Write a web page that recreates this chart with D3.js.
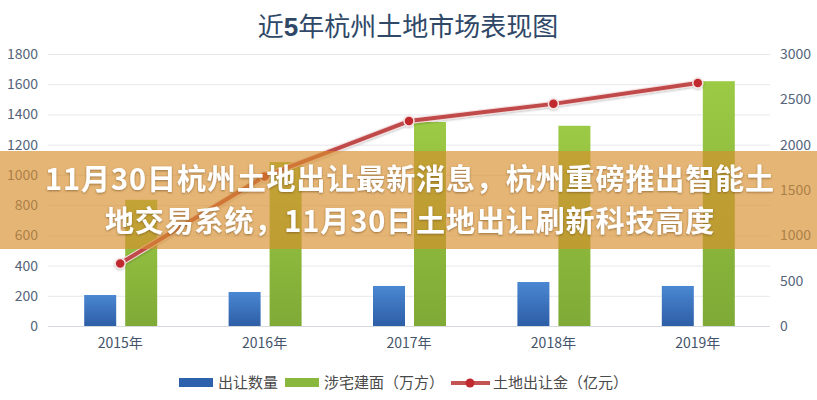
<!DOCTYPE html>
<html>
<head>
<meta charset="utf-8">
<script src="https://cdn.jsdelivr.net/npm/d3@7"></script>
<style>
  html, body { margin: 0; padding: 0; background: #fff; }
  svg { display: block; }
  .tick-label { font-family: "Liberation Sans Narrow", "Noto Sans CJK SC", sans-serif; }
</style>
</head>
<body>
<svg id="chart" width="817" height="400"></svg>
<script>
// 近5年杭州土地市场表现图 – bars + line, dual axis

const years = ["2015年", "2016年", "2017年", "2018年", "2019年"];
const landCount = [205, 225, 265, 291, 265];          // 出让数量 (left axis)
const residentialArea = [835, 1085, 1350, 1325, 1620]; // 涉宅建面（万方） (left axis)
const landRevenue = [690, 1650, 2260, 2450, 2680];     // 土地出让金（亿元） (right axis)

const leftTicks = [0, 200, 400, 600, 800, 1000, 1200, 1400, 1600, 1800];
const rightTicks = [0, 500, 1000, 1500, 2000, 2500, 3000];

const legendItems = ["出让数量", "涉宅建面（万方）", "土地出让金（亿元）"];
const chartTitle = "近5年杭州土地市场表现图";
const bannerLines = [
  "11月30日杭州土地出让最新消息，杭州重磅推出智能土",
  "地交易系统，11月30日土地出让刷新科技高度"
];

const svg = d3.select("#chart");
const plot = { left: 48, right: 770, top: 54, bottom: 326 };

// defs: gradients + shadow
const defs = svg.append("defs");
const blueGrad = defs.append("linearGradient").attr("id", "blueGrad")
  .attr("x1", 0).attr("y1", 0).attr("x2", 0).attr("y2", 1);
blueGrad.append("stop").attr("offset", "0%").attr("stop-color", "#4a87d2");
blueGrad.append("stop").attr("offset", "100%").attr("stop-color", "#2d5ea6");
const greenGrad = defs.append("linearGradient").attr("id", "greenGrad")
  .attr("x1", 0).attr("y1", 0).attr("x2", 0).attr("y2", 1);
greenGrad.append("stop").attr("offset", "0%").attr("stop-color", "#9cca45");
greenGrad.append("stop").attr("offset", "100%").attr("stop-color", "#7faa36");

const shadow = defs.append("filter").attr("id", "txtShadow")
  .attr("x", "-5%").attr("y", "-20%").attr("width", "110%").attr("height", "140%");
shadow.append("feDropShadow").attr("dx", 0).attr("dy", 1).attr("stdDeviation", 1.2)
  .attr("flood-color", "#6a4a20").attr("flood-opacity", 0.6);

const lineShadow = defs.append("filter").attr("id", "lineShadow")
  .attr("x", "-5%").attr("y", "-20%").attr("width", "110%").attr("height", "140%");
lineShadow.append("feDropShadow").attr("dx", 0).attr("dy", 1).attr("stdDeviation", 1)
  .attr("flood-color", "#000").attr("flood-opacity", 0.25);

// scales
const x = d3.scaleBand().domain(years).range([plot.left, plot.right]);
const yLeft = d3.scaleLinear().domain([0, 1800]).range([plot.bottom, plot.top]);
const yRight = d3.scaleLinear().domain([0, 3000]).range([plot.bottom, plot.top]);
const barW = 32;

// title
const title = svg.append("text")
  .attr("x", 408).attr("y", 36)
  .attr("text-anchor", "middle")
  .attr("font-family", "'Noto Sans CJK SC', sans-serif")
  .attr("font-size", 26)
  .attr("fill", "#2f4868");
title.append("tspan").text("近");
title.append("tspan").attr("font-weight", "bold").attr("font-family", "'Liberation Sans', sans-serif").text("5");
title.append("tspan").text(chartTitle.slice(2));

// grid
svg.append("g")
  .selectAll("line")
  .data(leftTicks)
  .join("line")
  .attr("x1", plot.left).attr("x2", plot.right)
  .attr("y1", d => yLeft(d) + 0.5).attr("y2", d => yLeft(d) + 0.5)
  .attr("stroke", d => d === 0 ? "#d6dae0" : "#e6e8ec")
  .attr("stroke-width", 1);

// left axis
const axisLeft = svg.append("g")
  .attr("transform", `translate(${plot.left},0)`)
  .call(d3.axisLeft(yLeft).tickValues(leftTicks).tickFormat(d3.format("d")).tickSize(0).tickPadding(10));
axisLeft.select(".domain").remove();
axisLeft.selectAll("text")
  .attr("class", "tick-label")
  .attr("font-size", 14).attr("fill", "#54647a");

// right axis
const axisRight = svg.append("g")
  .attr("transform", `translate(${plot.right},0)`)
  .call(d3.axisRight(yRight).tickValues(rightTicks).tickFormat(d3.format("d")).tickSize(0).tickPadding(10));
axisRight.select(".domain").remove();
axisRight.selectAll("text")
  .attr("class", "tick-label")
  .attr("font-size", 14).attr("fill", "#54647a");

// bottom axis
const axisBottom = svg.append("g")
  .attr("transform", `translate(0,${plot.bottom})`)
  .call(d3.axisBottom(x).tickSize(0).tickPadding(12));
axisBottom.select(".domain").remove();
axisBottom.selectAll("text")
  .attr("class", "tick-label")
  .attr("font-size", 14).attr("fill", "#44546a");

// bars
svg.append("g")
  .selectAll("rect")
  .data(years)
  .join("rect")
  .attr("x", d => x(d) + x.bandwidth() / 2 - 36)
  .attr("y", (d, i) => yLeft(landCount[i]))
  .attr("width", barW)
  .attr("height", (d, i) => yLeft(0) - yLeft(landCount[i]))
  .attr("fill", "url(#blueGrad)");

svg.append("g")
  .selectAll("rect")
  .data(years)
  .join("rect")
  .attr("x", d => x(d) + x.bandwidth() / 2 + 5)
  .attr("y", (d, i) => yLeft(residentialArea[i]))
  .attr("width", barW)
  .attr("height", (d, i) => yLeft(0) - yLeft(residentialArea[i]))
  .attr("fill", "url(#greenGrad)");

// line
const linePts = years.map((d, i) => [x(d) + x.bandwidth() / 2, yRight(landRevenue[i])]);
const lineG = svg.append("g").attr("filter", "url(#lineShadow)");
lineG.append("path")
  .attr("d", d3.line()(linePts))
  .attr("fill", "none")
  .attr("stroke", "#f4dede")
  .attr("stroke-width", 6)
  .attr("stroke-linejoin", "round");
lineG.append("path")
  .attr("d", d3.line()(linePts))
  .attr("fill", "none")
  .attr("stroke", "#c0494a")
  .attr("stroke-width", 4)
  .attr("stroke-linejoin", "round");
lineG.selectAll("circle")
  .data(linePts)
  .join("circle")
  .attr("cx", d => d[0]).attr("cy", d => d[1])
  .attr("r", 5)
  .attr("fill", "#c0292e")
  .attr("stroke", "#f6e2e2")
  .attr("stroke-width", 1.5);

// legend
const legend = svg.append("g").attr("font-family", "'Noto Sans CJK SC', sans-serif")
  .attr("font-size", 15).attr("fill", "#4a4a4a");
legend.append("rect").attr("x", 179).attr("y", 378).attr("width", 34).attr("height", 9).attr("fill", "#2f62ad");
legend.append("text").attr("x", 218).attr("y", 388).text(legendItems[0]);
legend.append("rect").attr("x", 285).attr("y", 378).attr("width", 34).attr("height", 9).attr("fill", "#8ab83e");
legend.append("text").attr("x", 324).attr("y", 388).text(legendItems[1]);
legend.append("line").attr("x1", 451).attr("x2", 490).attr("y1", 383).attr("y2", 383)
  .attr("stroke", "#c45454").attr("stroke-width", 4);
legend.append("circle").attr("cx", 470).attr("cy", 383).attr("r", 4.5).attr("fill", "#c0292e");
legend.append("text").attr("x", 493).attr("y", 388).text(legendItems[2]);

// banner overlay
svg.append("rect")
  .attr("x", 0).attr("y", 151).attr("width", 817).attr("height", 98)
  .attr("fill", "rgb(216,142,46)")
  .attr("fill-opacity", 0.66);

// headline: one text element, wrapped into two lines
const headline = svg.append("text")
  .attr("filter", "url(#txtShadow)")
  .attr("text-anchor", "middle")
  .attr("font-family", "'Noto Sans CJK SC', sans-serif")
  .attr("font-weight", "bold")
  .attr("font-size", 29)
  .attr("letter-spacing", 0.9)
  .attr("fill", "#ffffff");
headline.selectAll("tspan")
  .data(bannerLines)
  .join("tspan")
  .attr("x", 410)
  .attr("y", (d, i) => 190 + i * 42)
  .text(d => d);
</script>
</body>
</html>
